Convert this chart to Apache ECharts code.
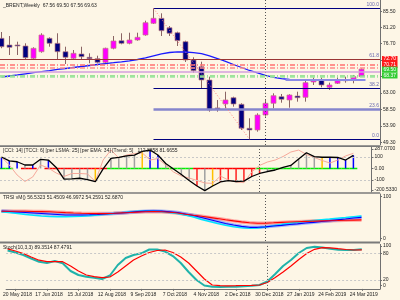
<!DOCTYPE html>
<html><head><meta charset="utf-8">
<script src="https://cdn.jsdelivr.net/npm/echarts@6/dist/echarts.min.js"></script>
<style>html,body{margin:0;padding:0;background:#fdf6e6;overflow:hidden}#c{width:400px;height:300px;}</style>
</head><body><div id="c"></div><script>
// ---------- data ----------
const labelIdx = [1,5,9,13,17,21,25,29,33,37,41,45];
const dateLabels = ['20 May 2018','17 Jun 2018','15 Jul 2018','12 Aug 2018','9 Sep 2018','7 Oct 2018','4 Nov 2018','2 Dec 2018','30 Dec 2018','27 Jan 2019','24 Feb 2019','24 Mar 2019'];
const priceTicks = [85.50,81.20,76.70,72.20,67.70,63.00,58.50,53.90,49.30];

const open  = [78.15,76.29,76.30,76.02,72.62,74.44,78.15,76.76,74.44,72.62,73.81,72.90,72.51,71.51,75.38,77.48,76.76,77.68,79.06,82.29,83.67,81.07,79.69,77.21,72.15,70.30,66.62,58.90,59.99,61.73,59.91,53.28,52.81,56.95,60.19,62.01,61.10,62.20,61.84,66.07,66.62,64.61,65.71,66.55,66.82,67.56];
const high  = [79.89,78.78,77.21,76.76,75.66,79.53,78.42,79.53,75.82,74.91,75.82,74.00,73.34,75.55,78.78,79.53,79.69,79.69,83.01,86.43,85.05,81.54,79.97,77.48,72.90,71.68,67.54,61.10,63.39,62.01,60.19,56.04,57.42,61.10,62.95,62.76,62.67,63.39,66.62,67.37,67.37,65.88,67.54,67.54,68.01,69.90];
const low   = [75.40,73.53,73.53,72.15,72.15,74.17,75.82,72.34,71.04,72.34,72.34,71.24,71.24,71.24,75.11,76.49,76.49,77.48,78.86,82.10,78.78,78.78,76.02,71.60,68.64,64.33,57.87,57.87,58.80,59.25,52.81,50.24,52.34,56.48,58.80,60.35,58.97,60.63,60.63,65.24,64.61,63.86,65.52,65.88,65.71,67.56];
const close = [75.82,75.66,76.10,72.79,75.38,79.06,76.76,74.44,72.90,74.00,73.06,72.51,71.51,75.38,77.40,76.76,77.68,78.42,82.46,83.67,80.25,79.53,77.48,72.15,69.19,66.62,58.34,58.75,61.10,59.99,53.28,52.81,56.95,60.19,62.29,61.29,62.48,61.73,65.88,66.62,65.24,65.24,66.62,66.70,67.54,69.63];
const maPrice = [67.45,67.73,68.01,68.34,68.64,68.94,69.22,69.53,69.80,70.08,70.35,70.63,70.91,71.16,71.40,71.65,71.93,72.29,72.76,73.31,73.86,74.22,74.42,74.36,74.19,73.92,73.31,72.56,71.74,70.91,70.08,69.25,68.56,67.92,67.37,67.01,66.76,66.65,66.60,66.57,66.54,66.51,66.51,66.51,66.54,66.57];

const cciMain = [99,66,58,30,30,79,73,9,-91,-89,-84,-95,-114,-4,88,95,108,116,147,159,116,43,-5,-52,-103,-151,-191,-151,-116,-105,-112,-109,-69,-43,-26,-13,9,26,82,136,103,97,97,95,73,113];
const cciFast = [99,30,-56,-112,-73,30,4,-39,-69,-43,-43,-47,-112,73,159,91,116,129,134,73,86,30,-30,-65,-82,-103,-125,-128,-65,-99,-116,-122,-30,26,56,73,103,142,159,121,95,69,47,73,108,131];
const cciColors = ['b','b','b','g','b','g','b','g','g','g','g','g','y','g','g','g','g','g','y','b','b','g','g','g','g','r','g','y','r','r','r','r','r','r','g','g','g','g','g','g','g','y','b','b','b','b'];
const trendColors = ['G','G',null,'R','R',null,'R','R','R','R','R','R','R','R','G','G','G','G','G','G','G','G','G','G','G','R','R','R','R','R','R','R','R','G','G','G','G','G','G','G','G','G','G','G','G','G'];

const trsiRed  = [63.2,63.2,63.4,63.2,62.8,62.6,62.1,61.3,60.4,59.6,58.9,58.5,58.3,58.3,58.9,59.8,60.6,61.5,62.1,62.6,62.1,61.1,59.6,57.0,54.7,52.6,50.2,47.7,45.1,42.8,40.6,38.9,37.9,37.9,38.7,39.6,40.4,41.1,41.7,42.3,42.8,43.2,43.6,44.1,44.5,44.9];
const trsiBlue = [63.8,62.8,61.7,60.6,59.6,58.5,57.5,56.4,55.3,55.3,55.3,55.8,56.4,57.5,58.5,59.6,61.1,62.4,63.4,63.8,63.4,62.1,60.6,57.5,54.3,50.0,45.8,41.5,37.2,34.0,31.3,29.2,29.2,30.2,31.9,33.4,35.1,36.6,38.3,39.8,41.5,43.2,45.1,46.8,48.9,50.4];
const trsiCyan = [62.4,60.6,58.5,56.4,54.7,53.2,52.1,51.7,51.7,52.1,52.8,53.8,55.3,56.8,58.5,60.0,61.7,63.2,63.8,63.8,62.8,60.6,58.5,55.3,51.1,45.8,41.5,37.2,33.4,30.4,28.1,27.0,27.7,29.8,32.3,35.1,37.7,39.8,41.9,43.6,45.3,46.8,48.5,50.0,51.7,53.2];

const stochMain   = [86.3,81.8,76.2,68.3,61.1,58.2,62.7,57.5,40.2,31.2,27.4,25.2,22.2,30.1,53.7,69.4,76.2,80.0,88.5,88.5,84.0,73.9,58.2,38.0,20.0,7.6,4.9,4.3,4.9,4.9,5.8,7.0,8.8,16.6,33.5,51.5,64.9,80.7,91.9,94.8,93.0,90.3,88.1,87.4,87.4,89.35];
const stochSignal = [90.1,85.2,79.6,71.7,64.5,61.1,61.1,61.1,51.5,40.2,31.2,27.4,25.2,26.7,38.0,51.5,64.9,73.9,81.8,86.3,87.4,81.8,71.7,58.2,40.2,22.2,8.8,7.2,7.0,7.2,7.6,8.1,8.8,14.4,25.6,38.0,51.5,66.1,79.6,89.0,92.6,92.4,90.3,88.5,87.4,87.48];

// ---------- chart ----------
const FONT = 'Liberation Sans';
const XMIN = -0.1875, XMAX = 47.3125;
const AX = '#707070';
const CLEAR = 'rgba(0,0,0,0)';
const colMap = {b:'#0000ff', g:'#a0a0a0', y:'#ffc000', r:'#ff2020', G:'#00ee00', R:'#ff0000'};
const pairs = arr => arr.map((v,i)=>[i,v]);
const vline = {xAxis:33, lineStyle:{color:'#555', type:[1,2], width:1}};

function nearestLabel(vals, labels){
  return v => { let bi=0, bd=1e9; vals.forEach((x,i)=>{const d=Math.abs(x-v); if(d<bd){bd=d;bi=i;}}); return labels[bi]; };
}

const grids = [
  {left:0, width:380, top:0, height:145},
  {left:0, width:380, top:147, height:45},
  {left:0, width:380, top:194, height:47},
  {left:0, width:380, top:244.4, height:44.5}
];
const xAxes = grids.map((g,i)=>({
  type:'value', gridIndex:i, min:XMIN, max:XMAX, splitLine:{show:false},
  axisLine:{show:i===3, onZero:false, lineStyle:{color:AX}},
  axisTick:{show:i===3, customValues:labelIdx, length:2, lineStyle:{color:AX}},
  axisLabel:{show:i===3, customValues:labelIdx, fontSize:5, fontFamily:FONT, color:'#222', margin:3, padding:[0,0,0,4],
    formatter: v => dateLabels[labelIdx.indexOf(Math.round(v))] || ''}
}));
function yAx(i, min, max, vals, fmt){
  return {type:'value', gridIndex:i, position:'right', min, max, splitLine:{show:false},
    axisLine:{show:true, onZero:false, lineStyle:{color:AX}},
    axisTick:{show:true, length:2, customValues:vals, lineStyle:{color:AX}},
    axisLabel:{customValues:vals, formatter:fmt, fontSize:5, fontFamily:FONT, color:'#222', margin:3}};
}
const cciLblV = [168,100,0,-100,-185], cciLblT = ['287.0700','100','0.00','-100','-200.5330'];
const trsiLblV = [94.3,4.9], trsiLblT = ['100','0'];
const stLblV = [96.4,80,20,7.2], stLblT = ['100','80','20','0'];
const yAxes = [
  yAx(0, 48.66, 88.73, priceTicks, v=>v.toFixed(2)),
  yAx(1, -202.6, 185.3, cciLblV, nearestLabel(cciLblV, cciLblT)),
  yAx(2, 0, 100, trsiLblV, nearestLabel(trsiLblV, trsiLblT)),
  yAx(3, 0, 100, stLblV, nearestLabel(stLblV, stLblT))
];

const ohlc = open.map((o,i)=>[i,o,high[i],low[i],close[i]]);
function renderCandle(params, api){
  const i=api.value(0), o=api.value(1), h=api.value(2), l=api.value(3), c=api.value(4);
  const pO=api.coord([i,o]), pC=api.coord([i,c]), pH=api.coord([i,h]), pL=api.coord([i,l]);
  const cx=pO[0];
  const top=Math.min(pO[1],pC[1]), bot=Math.max(pO[1],pC[1]);
  const up=c>=o;
  return {type:'group', children:[
    {type:'line', shape:{x1:cx, y1:pH[1], x2:cx, y2:pL[1]}, style:{stroke:'#8a6464', lineWidth:1}},
    {type:'rect', shape:{x:cx-2.5, y:top, width:5, height:Math.max(bot-top,1)}, style:{fill:up?'#ff00ff':'#000080', stroke:'#c08080', lineWidth:0.7}}
  ]};
}
function renderHist(params, api){
  const i=api.value(0), v=api.value(1);
  const p0=api.coord([i,0]), p1=api.coord([i,v]);
  return {type:'line', shape:{x1:p0[0], y1:p0[1], x2:p1[0], y2:p1[1]}, style:{stroke:colMap[cciColors[i]], lineWidth:1.5}};
}
function renderTrend(params, api){
  const i=api.value(0);
  const t=trendColors[i];
  if(!t) return null;
  const p0=api.coord([i-0.5,0]), p1=api.coord([i+0.5,0]);
  return {type:'line', shape:{x1:p0[0], y1:p0[1], x2:p1[0], y2:p1[1]}, style:{stroke:colMap[t], lineWidth:1.5}};
}

const fibLbl = (t)=>({show:true, position:'insideEndTop', formatter:t, fontSize:5, fontFamily:FONT, color:'#6a6ab0', distance:1});
const boxLbl = (t,bg)=>({show:true, position:'end', formatter:t, fontSize:5, fontFamily:FONT, color:'#fff', backgroundColor:bg, padding:[0.5,1.5], distance:2});
const dashdot = [5,2,1,2];

const mainMarks = [
  vline,
  {yAxis:72.43, lineStyle:{color:'#9a3535', width:1, type:'solid'}, label:boxLbl('72.70','#ff1a1a')},
  {yAxis:70.77, lineStyle:{color:'#ff7070', width:1.5, type:dashdot}, label:boxLbl('70.71','#ff1a1a')},
  {yAxis:70.10, lineStyle:{color:'#ff8a8a', width:1.5, type:dashdot}},
  {yAxis:69.50, lineStyle:{color:CLEAR, width:1}, label:boxLbl('69.50','#33cc33')},
  {yAxis:68.84, lineStyle:{color:'#d4a0dc', width:1.5, type:'solid'}},
  {yAxis:67.87, lineStyle:{color:'#80dc80', width:1.5, type:dashdot}, label:boxLbl('68.37','#33cc33')},
  {yAxis:67.45, lineStyle:{color:'#a0e8a0', width:1.5, type:dashdot}},
  [{coord:[19,86.43], lineStyle:{color:'#000080', width:1, type:'solid'}, label:fibLbl('100.0')},{coord:[XMAX,86.43]}],
  [{coord:[XMAX-2,72.43], lineStyle:{color:CLEAR, width:1}, label:fibLbl('61.8')},{coord:[XMAX,72.43]}],
  [{coord:[19,64.33], lineStyle:{color:'#000080', width:1, type:'solid'}, label:fibLbl('38.2')},{coord:[XMAX,64.33]}],
  [{coord:[19,58.53], lineStyle:{color:'#8585cc', width:2.5, type:'solid'}, label:fibLbl('23.6')},{coord:[XMAX,58.53]}],
  [{coord:[19,50.24], lineStyle:{color:'#000080', width:1, type:'solid'}, label:fibLbl('0.0')},{coord:[XMAX,50.24]}],
  [{coord:[19,86.43], lineStyle:{color:'#ff8080', width:1, type:[1,2]}},{coord:[31,50.24]}],
  [{coord:[35.5,66.62], lineStyle:{color:'#8a8ae6', width:2, type:'solid'}},{coord:[45.5,66.62]}]
];

const baseLine = (name, xi, data, color, width, extra)=>Object.assign({
  name, type:'line', xAxisIndex:xi, yAxisIndex:xi, data:pairs(data), showSymbol:false, symbol:'none',
  lineStyle:{color, width}, itemStyle:{color}, silent:true
}, extra||{});
const mk = (data)=>({markLine:{silent:true, symbol:['none','none'], animation:false, label:{show:false}, data}});

const series = [
  {type:'custom', name:'candles', xAxisIndex:0, yAxisIndex:0, data:ohlc, renderItem:renderCandle, encode:{x:0, y:[1,2,3,4]}, z:3},
  baseLine('MA', 0, maPrice, '#1a1aff', 1.3, Object.assign({z:4}, mk(mainMarks))),
  {type:'custom', name:'trend', xAxisIndex:1, yAxisIndex:1, data:pairs(trendColors.map(()=>0)), renderItem:renderTrend, encode:{x:0,y:1}, z:2},
  {type:'custom', name:'hist', xAxisIndex:1, yAxisIndex:1, data:pairs(cciMain), renderItem:renderHist, encode:{x:0,y:1}, z:3},
  baseLine('CCIfast', 1, cciFast, '#f6a89a', 1, {z:4}),
  baseLine('CCI', 1, cciMain, '#000000', 1.3, Object.assign({z:5}, mk([
    vline,
    {yAxis:100, lineStyle:{color:'#c8c8c8', type:[2,2], width:1}},
    {yAxis:-100, lineStyle:{color:'#c8c8c8', type:[2,2], width:1}}
  ]))),
  baseLine('TRSIsalmon', 2, trsiRed, 'rgba(255,110,110,0.6)', 3.5, {z:2}),
  baseLine('TRSIlb', 2, trsiBlue, 'rgba(110,140,255,0.6)', 3.5, {z:2}),
  baseLine('TRSIcyan', 2, trsiCyan, '#00e5ff', 1.5, {z:3}),
  baseLine('TRSIblue', 2, trsiBlue, '#0000ff', 1.2, {z:4}),
  baseLine('TRSIred', 2, trsiRed, '#ff0000', 1.1, Object.assign({z:5}, mk([vline]))),
  baseLine('StochMain', 3, stochMain, '#20b2aa', 2, {z:3}),
  baseLine('StochSig', 3, stochSignal, '#ff0000', 1.2, Object.assign({z:4}, mk([
    vline,
    {yAxis:80, lineStyle:{color:'#c8c8c8', type:[2,2], width:1}},
    {yAxis:20, lineStyle:{color:'#c8c8c8', type:[2,2], width:1}}
  ])))
];

const tStyle = {fontSize:5, fontWeight:'normal', color:'#222', fontFamily:FONT};
const titles = [
  {text:'_BRENT,Weekly  67.56 69.50 67.56 69.63', left:3, top:3},
  {text:'[CCI: 14] [TCCI: 6] [per LSMA: 25] [per EMA: 34] [Trend: 5]   112.8858 81.6655', left:3, top:148},
  {text:'TRSI vM() 56.5323 51.4509 46.9972 54.2591 52.6870', left:3, top:195.5},
  {text:'Stoch(10,3,3) 89.3514 87.4791', left:3, top:245.5}
].map(t=>Object.assign(t, {padding:0, textStyle:tStyle}));

const sep = (y,h)=>({type:'rect', shape:{x:0, y, width:380, height:h}, style:{fill:'#7a7a7a'}, z:100});

const chart = echarts.init(document.getElementById('c'), null, {renderer:'canvas', width:400, height:300});
chart.setOption({
  backgroundColor:'#fdf6e6',
  animation:false,
  title: titles,
  grid: grids,
  xAxis: xAxes,
  yAxis: yAxes,
  series,
  graphic: [sep(145.2,1.8), sep(192.2,1.6), sep(241.6,2)]
});
</script></body></html>
